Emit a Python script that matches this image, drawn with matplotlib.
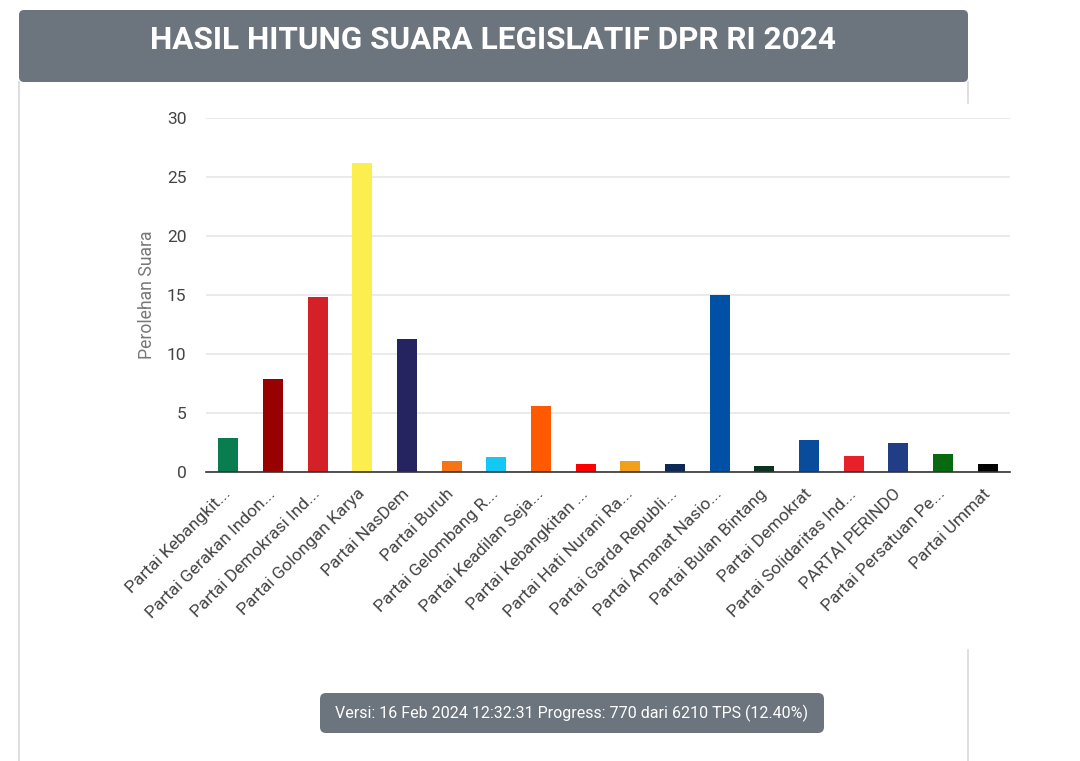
import matplotlib
matplotlib.use("Agg")
import matplotlib.pyplot as plt
from matplotlib.patches import FancyBboxPatch
from matplotlib.lines import Line2D

plt.rcParams["font.family"] = ["Roboto", "DejaVu Sans"]

partai = [
    "Partai Kebangkit...",
    "Partai Gerakan Indon...",
    "Partai Demokrasi Ind...",
    "Partai Golongan Karya",
    "Partai NasDem",
    "Partai Buruh",
    "Partai Gelombang R...",
    "Partai Keadilan Seja...",
    "Partai Kebangkitan ...",
    "Partai Hati Nurani Ra...",
    "Partai Garda Republi...",
    "Partai Amanat Nasio...",
    "Partai Bulan Bintang",
    "Partai Demokrat",
    "Partai Solidaritas Ind...",
    "PARTAI PERINDO",
    "Partai Persatuan Pe...",
    "Partai Ummat",
]
suara = [2.9, 7.9, 14.8, 26.2, 11.3, 0.9, 1.25, 5.6, 0.7, 0.95,
         0.7, 15.0, 0.55, 2.75, 1.35, 2.5, 1.5, 0.7]
warna = ["#0a7d50", "#990000", "#d42027", "#fdee4f", "#252360", "#f57416",
         "#14c8f5", "#ff5a00", "#ff0000", "#f0a01a", "#0c2a55", "#0050a5",
         "#0a3320", "#0a4c9c", "#e8202a", "#213d85", "#086a10", "#000000"]

judul = "HASIL HITUNG SUARA LEGISLATIF DPR RI 2024"
versi = "Versi: 16 Feb 2024 12:32:31 Progress: 770 dari 6210 TPS (12.40%)"

W, H = 1080, 761
fig = plt.figure(figsize=(W / 100, H / 100), dpi=100)
fig.patch.set_facecolor("white")


def px_box(x0, y0, x1, y1, color, rad):
    # pixel coords measured from top-left
    return FancyBboxPatch((x0 / 100, (H - y1) / 100), (x1 - x0) / 100, (y1 - y0) / 100,
                          boxstyle=f"round,pad=0,rounding_size={rad / 100}",
                          transform=fig.dpi_scale_trans, facecolor=color,
                          edgecolor="none")


# card borders
for xs, ys in [((19, 19), (82, 761)), ((968, 968), (82, 103)), ((968, 968), (650, 761))]:
    fig.add_artist(Line2D([xs[0] / W, xs[1] / W], [1 - ys[0] / H, 1 - ys[1] / H],
                          transform=fig.transFigure, color="#d8d8d8", lw=1.2))

# header
fig.add_artist(px_box(19, 10, 968, 82, "#6c757d", 5))
fig.text(493.5 / W, 1 - 40 / H, judul, color="white", fontsize=22.7, fontweight="bold",
         ha="center", va="center")

# chart
ax = fig.add_axes([206 / W, 1 - 472 / H, 804 / W, 354 / H])
x = range(len(partai))
ax.bar(x, suara, width=0.45, color=warna, zorder=3)
ax.set_xlim(-0.5, len(partai) - 0.5)
ax.set_ylim(0, 30)
ax.set_yticks([0, 5, 10, 15, 20, 25, 30])
ax.grid(axis="y", color="#e6e6e6", lw=1.2, zorder=0)
for s in ["top", "right", "left"]:
    ax.spines[s].set_visible(False)
ax.spines["bottom"].set_color("#333333")
ax.spines["bottom"].set_linewidth(1.2)
ax.spines["bottom"].set_zorder(4)
ax.tick_params(axis="both", length=0, labelsize=12.5, labelcolor="#444444")
ax.tick_params(axis="y", pad=14)
ax.set_xticks(list(x))
ax.set_xticklabels(partai, rotation=45, ha="right", va="center",
                   rotation_mode="anchor")
ax.tick_params(axis="x", pad=14)
ax.set_ylabel("Perolehan Suara", fontsize=12.7, color="#777777", labelpad=8)

# footer
fig.add_artist(px_box(320, 693, 824, 733, "#6c757d", 6))
fig.text(572 / W, 1 - 713 / H, versi, color="white", fontsize=11.5,
         ha="center", va="center")

fig.savefig("out.png", dpi=100)
